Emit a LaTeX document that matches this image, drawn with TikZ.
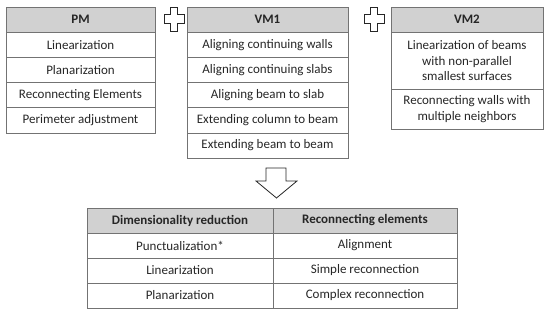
\documentclass[tikz,border=0pt]{standalone}
\usepackage{fontspec}
\setmainfont{Carlito}
\usepackage{tikz}

\begin{document}
\begin{tikzpicture}[
  x=1pt,
  y=-1pt,
  every node/.style={font=\fontsize{13}{15.4}\selectfont, text=black!85},
  cell/.style={
    draw=black!55,
    line width=0.7pt,
    inner sep=0pt,
    outer sep=0pt,
    align=center,
    minimum width=#1,
    minimum height=25.2pt
  },
  head/.style={
    cell=#1,
    fill=black!18,
    font=\fontsize{13}{15.4}\selectfont\bfseries
  },
  plusmark/.style={draw=black!85, line width=0.8pt, fill=white},
  downarrow/.style={draw=black!85, line width=0.8pt, fill=white}
]
\useasboundingbox (0,0) rectangle (550,315);

% PM
\node[head=149pt] (pm) at (80.5,19.6) {PM};
\node[cell=149pt] (pm1) at (80.5,44.8) {Linearization};
\node[cell=149pt] (pm2) at (80.5,70) {Planarization};
\node[cell=149pt] (pm3) at (80.5,95.2) {Reconnecting Elements};
\node[cell=149pt] (pm4) at (80.5,120.4) {Perimeter adjustment};

% VM1
\node[head=161pt] (vma) at (267.5,19.6) {VM1};
\node[cell=161pt] (vma1) at (267.5,44.8) {Aligning continuing walls};
\node[cell=161pt] (vma2) at (267.5,70) {Aligning continuing slabs};
\node[cell=161pt] (vma3) at (267.5,95.2) {Aligning beam to slab};
\node[cell=161pt] (vma4) at (267.5,120.4) {Extending column to beam};
\node[cell=161pt] (vma5) at (267.5,145.6) {Extending beam to beam};

% VM2
\node[head=152pt] (vmb) at (467,19.6) {VM2};
\node[cell=152pt, minimum height=56.8pt] (vmb1) at (467,60.6)
  {Linearization of beams\\with non-parallel\\smallest surfaces};
\node[cell=152pt, minimum height=40pt] (vmb2) at (467,109)
  {Reconnecting walls with\\multiple neighbors};

% plus signs
\draw[plusmark] (170.5,7) -- (177.5,7) -- (177.5,14.5) -- (184,14.5) -- (184,23.5)
  -- (177.5,23.5) -- (177.5,31) -- (170.5,31) -- (170.5,23.5) -- (164,23.5)
  -- (164,14.5) -- (170.5,14.5) -- cycle;
\draw[plusmark] (370.5,7) -- (377.5,7) -- (377.5,14.5) -- (384,14.5) -- (384,23.5)
  -- (377.5,23.5) -- (377.5,31) -- (370.5,31) -- (370.5,23.5) -- (364,23.5)
  -- (364,14.5) -- (370.5,14.5) -- cycle;

% down arrow
\draw[downarrow] (266,168) -- (286,168) -- (286,181) -- (297,181) -- (276.5,198)
  -- (256,181) -- (266,181) -- cycle;

% result table
\node[head=186pt, minimum height=25pt] (dim) at (180,220.5) {Dimensionality reduction};
\node[head=184pt, minimum height=25pt] (rec) at (365,220.5) {Reconnecting elements};
\node[cell=186pt, minimum height=25pt] (dim1) at (180,245.5) {Punctualization*};
\node[cell=186pt, minimum height=25pt] (dim2) at (180,270.5) {Linearization};
\node[cell=186pt, minimum height=25pt] (dim3) at (180,295.5) {Planarization};
\node[cell=184pt, minimum height=25pt] (rec1) at (365,245.5) {Alignment};
\node[cell=184pt, minimum height=25pt] (rec2) at (365,270.5) {Simple reconnection};
\node[cell=184pt, minimum height=25pt] (rec3) at (365,295.5) {Complex reconnection};
\end{tikzpicture}
\end{document}
